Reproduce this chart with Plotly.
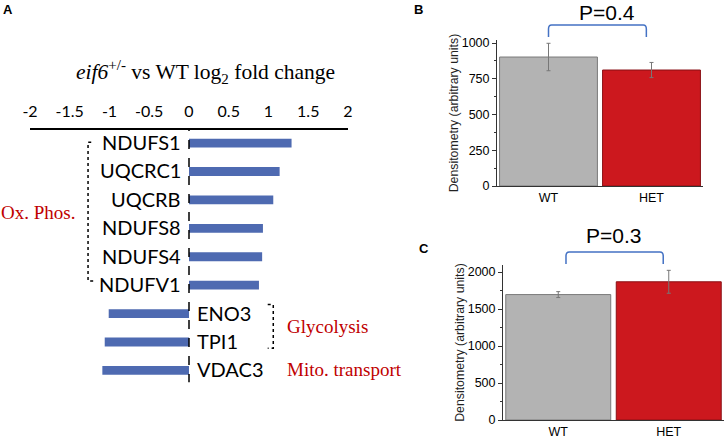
import plotly.graph_objects as go

# panel A: log2 fold change, eif6+/- vs WT
genes = ['NDUFS1', 'UQCRC1', 'UQCRB', 'NDUFS8', 'NDUFS4', 'NDUFV1', 'ENO3', 'TPI1', 'VDAC3']
log2fc = [1.29, 1.14, 1.06, 0.93, 0.92, 0.88, -1.01, -1.06, -1.09]
fc_ticks = [-2, -1.5, -1, -0.5, 0, 0.5, 1, 1.5, 2]
fc_ticklabels = ['-2', '-1.5', '-1', '-0.5', '0', '0.5', '1', '1.5', '2']

# panels B and C: densitometry
groups = ['WT', 'HET']
b_mean = [902, 811]
b_err = [96, 53]
c_mean = [1695, 1868]
c_err = [40, 155]
b_pval = 'P=0.4'
c_pval = 'P=0.3'

BLUE = '#4E6AB1'
GREY = '#B3B3B3'
RED = '#CC181E'
SERIF = 'Liberation Serif, Times New Roman, serif'
SANS = 'Liberation Sans, Arial, sans-serif'
GENEFONT = 'Lato, Open Sans, sans-serif'

W, H = 726, 436


def px(x):
    return x / W


def py(y):
    return 1 - y / H


ypos = list(range(len(genes)))

fig = go.Figure()

# --- panel A
fig.add_trace(go.Bar(x=log2fc, y=ypos, orientation='h', width=0.31,
                     marker=dict(color=BLUE, line=dict(width=0)),
                     xaxis='x', yaxis='y', showlegend=False))

# --- panel B
fig.add_trace(go.Bar(x=groups, y=b_mean, xaxis='x2', yaxis='y2', showlegend=False,
                     marker=dict(color=[GREY, RED], line=dict(color=['#7a7a7a', '#8a1015'], width=1)),
                     error_y=dict(type='data', array=b_err, color='#777777', thickness=1, width=2)))

# --- panel C
fig.add_trace(go.Bar(x=groups, y=c_mean, xaxis='x3', yaxis='y3', showlegend=False,
                     marker=dict(color=[GREY, RED], line=dict(color=['#7a7a7a', '#8a1015'], width=1)),
                     error_y=dict(type='data', array=c_err, color='#777777', thickness=1, width=2)))

shapes = []
annotations = []

# zero line in A
shapes.append(dict(type='line', xref='x', yref='y', x0=0, x1=0, y0=-0.74, y1=8.42,
                   line=dict(color='black', width=1.5, dash='dash')))

# gene labels next to zero line
for i, (g, v) in enumerate(zip(genes, log2fc)):
    side = 'right' if v >= 0 else 'left'
    annotations.append(dict(x=0, y=i, xref='x', yref='y', text=g, showarrow=False,
                            xanchor=side, yanchor='middle', xshift=-6 if v >= 0 else 6, yshift=1,
                            font=dict(family=GENEFONT, size=20, color='black')))

# brackets for pathways
dot = dict(color='black', width=1.5, dash='dot')
shapes.append(dict(type='path', xref='x', yref='y', line=dot,
                   path='M -1.23,-0.03 L -1.27,-0.03 L -1.27,4.85 L -1.17,4.85'))
shapes.append(dict(type='path', xref='x', yref='y', line=dot,
                   path='M 0.99,5.68 L 1.06,5.68 L 1.06,7.22 L 0.99,7.22'))

red_txt = dict(family=SERIF, size=19, color='#C00000')
annotations.append(dict(x=px(38), y=2.45, xref='paper', yref='y', text='Ox. Phos.',
                        showarrow=False, xanchor='center', yanchor='middle', font=red_txt))
annotations.append(dict(x=px(285), y=6.45, xref='paper', yref='y', text='Glycolysis',
                        showarrow=False, xanchor='left', yanchor='middle', font=red_txt))
annotations.append(dict(x=px(285), y=7.95, xref='paper', yref='y', text='Mito. transport',
                        showarrow=False, xanchor='left', yanchor='middle', font=red_txt))

# panel A title
annotations.append(dict(x=px(206), y=py(72), xref='paper', yref='paper',
                        text='<i>eif6</i><sup>+/-</sup> vs WT log<sub>2</sub> fold change',
                        showarrow=False, xanchor='center', yanchor='middle',
                        font=dict(family=SERIF, size=21.5, color='black')))

# panel letters
for letter, x, y in [('A', 8, 9), ('B', 418, 9), ('C', 424, 248)]:
    annotations.append(dict(x=px(x), y=py(y), xref='paper', yref='paper', text='<b>' + letter + '</b>',
                            showarrow=False, xanchor='center', yanchor='middle',
                            font=dict(family=SANS, size=13, color='black')))

# p-value brackets
bl = dict(color='#4472C4', width=1.5)


def bracket(xref, x0, x1, ytop, ybot):
    r = 0.03
    ry = 4 / H
    return dict(type='path', xref=xref, yref='paper', line=bl,
                path=f'M {x0},{ybot} L {x0},{ytop - ry} Q {x0},{ytop} {x0 + r},{ytop} '
                     f'L {x1 - r},{ytop} Q {x1},{ytop} {x1},{ytop - ry} L {x1},{ybot}')


shapes.append(bracket('x2', 0.0, 0.95, py(25), py(37)))
shapes.append(bracket('x3', 0.07, 0.95, py(252), py(264)))
annotations.append(dict(x=px(607), y=py(12), xref='paper', yref='paper', text=b_pval,
                        showarrow=False, xanchor='center', yanchor='middle',
                        font=dict(family=SANS, size=21, color='black')))
annotations.append(dict(x=px(613), y=py(235), xref='paper', yref='paper', text=c_pval,
                        showarrow=False, xanchor='center', yanchor='middle',
                        font=dict(family=SANS, size=21, color='black')))

ax_font = dict(family=SANS, size=12.5, color='black')
ytitle = dict(text='Densitometry (arbitrary units)', font=dict(family=SANS, size=12.3, color='#222'), standoff=0)

fig.update_layout(
    width=W, height=H,
    margin=dict(l=0, r=0, t=0, b=0),
    paper_bgcolor='white', plot_bgcolor='white',
    bargap=0.05,
    shapes=shapes, annotations=annotations,
    xaxis=dict(domain=[px(30), px(348)], range=[-2, 2], side='top', anchor='y', automargin=False,
               tickvals=fc_ticks, ticktext=fc_ticklabels, ticks='', showgrid=False, zeroline=False,
               showline=True, linecolor='black', linewidth=1.5, ticklabelstandoff=5,
               tickfont=dict(family=GENEFONT, size=16, color='black')),
    yaxis=dict(domain=[py(396), py(130)], range=[8.9, -0.46], visible=False, anchor='x', automargin=False),
    xaxis2=dict(domain=[px(497), px(703)], anchor='y2', showline=True, linecolor='#333', linewidth=1,
                ticks='', showgrid=False, tickfont=ax_font, range=[-0.5, 1.5], automargin=False),
    yaxis2=dict(domain=[py(186), py(40)], anchor='x2', range=[0, 1021], showline=True, linecolor='#333',
                linewidth=1, ticks='outside', ticklen=4, tickcolor='#333', tickvals=[0, 250, 500, 750, 1000],
                minor=dict(ticks='outside', ticklen=2, dtick=125, tickcolor='#333'), automargin=False,
                showgrid=False, zeroline=False, tickfont=ax_font, title=ytitle),
    xaxis3=dict(domain=[px(503), px(724)], anchor='y3', showline=True, linecolor='#333', linewidth=1,
                ticks='', showgrid=False, tickfont=ax_font, range=[-0.5, 1.5], automargin=False),
    yaxis3=dict(domain=[py(420), py(265)], anchor='x3', range=[0, 2095], showline=True, linecolor='#333',
                linewidth=1, ticks='outside', ticklen=4, tickcolor='#333', tickvals=[0, 500, 1000, 1500, 2000],
                minor=dict(ticks='outside', ticklen=2, dtick=250, tickcolor='#333'), automargin=False,
                showgrid=False, zeroline=False, tickfont=ax_font, title=ytitle),
)

# the page body has a default 8px margin; drop it so the figure sits at the window corner
fig.write_html('out.html', config={'displayModeBar': False},
               post_script="document.body.style.margin='0';")
